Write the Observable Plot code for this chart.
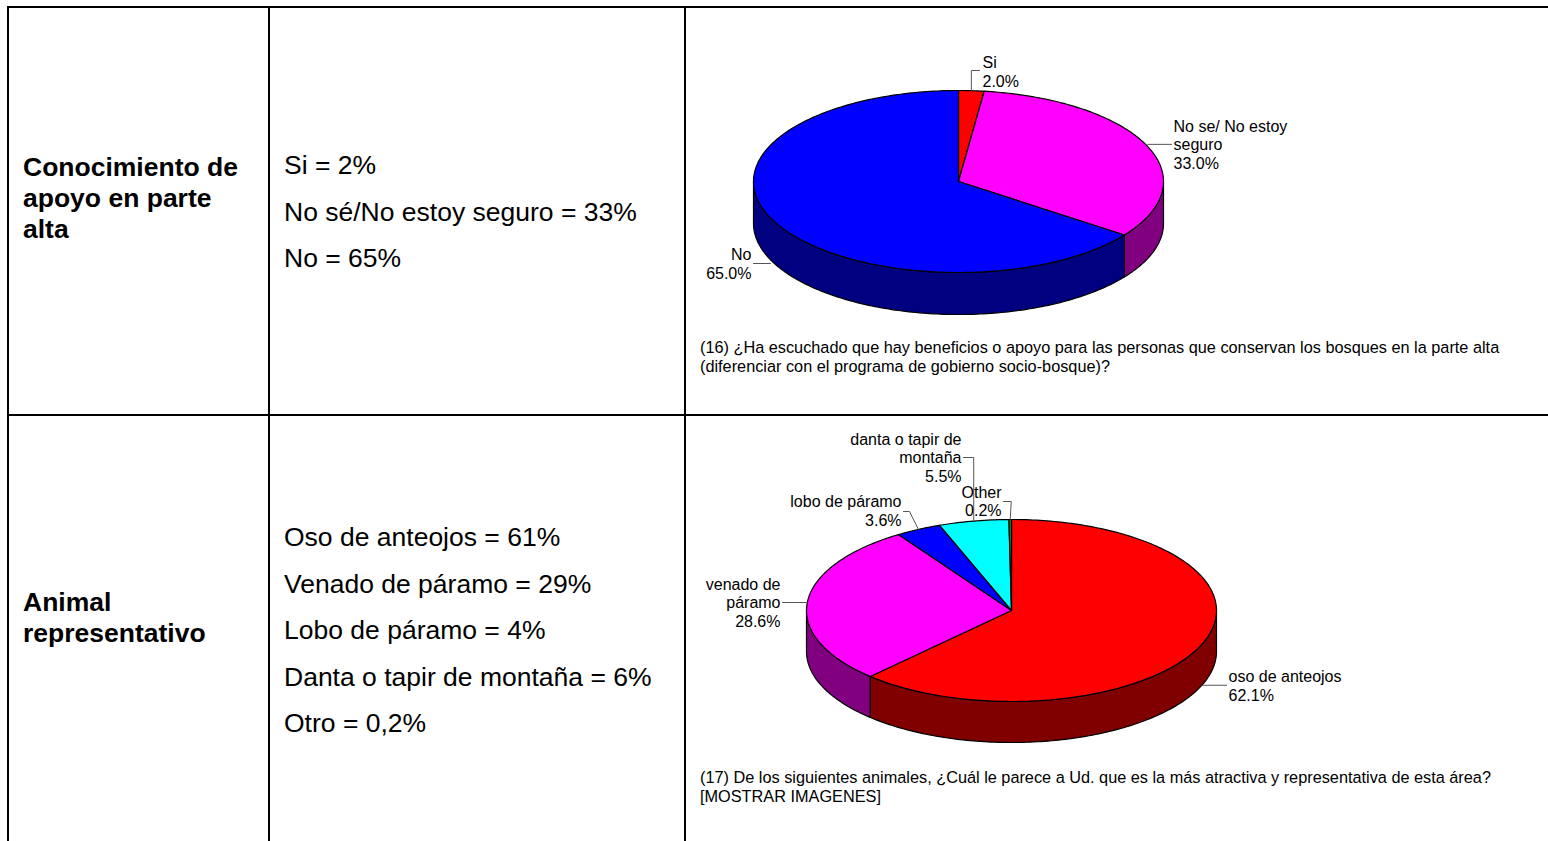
<!DOCTYPE html>
<html><head><meta charset="utf-8">
<script src="https://cdn.jsdelivr.net/npm/d3@7"></script>
<script src="https://cdn.jsdelivr.net/npm/@observablehq/plot@0.6"></script>
<style>
html,body{margin:0;padding:0;background:#fff;}
body{width:1548px;height:841px;overflow:hidden;position:relative;font-family:"Liberation Sans",Arial,sans-serif;color:#000;}
.ln{position:absolute;background:#000;}
.t{position:absolute;white-space:nowrap;}
.head{font-weight:bold;font-size:26.5px;line-height:31px;}
.vals{font-size:26.5px;line-height:46.6px;}
.cap{font-size:16.3px;line-height:19px;}
.pie{position:absolute;}
</style></head><body>
<div class="ln" style="left:7px;top:6px;width:1541px;height:2px"></div>
<div class="ln" style="left:7px;top:414px;width:1541px;height:2px"></div>
<div class="ln" style="left:7px;top:6px;width:2px;height:835px"></div>
<div class="ln" style="left:268px;top:6px;width:2px;height:835px"></div>
<div class="ln" style="left:684px;top:6px;width:2px;height:835px"></div>
<script>
// ---------- data ----------
const rowTitles = ["Conocimiento de\napoyo en parte\nalta", "Animal\nrepresentativo"];
const summary16 = ["Si = 2%", "No sé/No estoy seguro = 33%", "No = 65%"];
const summary17 = ["Oso de anteojos = 61%", "Venado de páramo = 29%", "Lobo de páramo = 4%", "Danta o tapir de montaña = 6%", "Otro = 0,2%"];

const q16Categories = ["Si", "No se/ No estoy\nseguro", "No"];
const q16Values = [2.0, 33.0, 65.0];
const q16Colors = ["#ff0000", "#ff00ff", "#0000ff"];
const q16SideColors = ["#800000", "#800080", "#000080"];
const q16Question = "(16) ¿Ha escuchado que hay beneficios o apoyo para las personas que conservan los bosques en la parte alta\n(diferenciar con el programa de gobierno socio-bosque)?";

const q17Categories = ["oso de anteojos", "venado de\npáramo", "lobo de páramo", "danta o tapir de\nmontaña", "Other"];
const q17Values = [62.1, 28.6, 3.6, 5.5, 0.2];
const q17Colors = ["#ff0000", "#ff00ff", "#0000ff", "#00ffff", "#00a000"];
const q17SideColors = ["#800000", "#800080", "#000080", "#008080", "#005000"];
const q17Question = "(17) De los siguientes animales, ¿Cuál le parece a Ud. que es la más atractiva y representativa de esta área?\n[MOSTRAR IMAGENES]";

// ---------- helpers ----------
const esc = s => s.replace(/&/g,"&amp;").replace(/</g,"&lt;").replace(/\n/g,"<br>");
function addText(cls, left, top, html) {
  const d = document.createElement("div");
  d.className = "t " + cls;
  d.style.left = left + "px"; d.style.top = top + "px";
  d.innerHTML = html;
  document.body.appendChild(d);
}
addText("head", 23, 152, esc(rowTitles[0]));
addText("head", 23, 587, esc(rowTitles[1]));
addText("vals", 284, 142, summary16.map(esc).join("<br>"));
addText("vals", 284, 514, summary17.map(esc).join("<br>"));
addText("cap", 700, 338, esc(q16Question));
addText("cap", 700, 768, esc(q17Question));

function pie3d(cfg) {
  const total = d3.sum(cfg.vals);
  let acc = 0;
  const slices = cfg.vals.map((v, i) => {
    const a0 = acc / total * 2 * Math.PI; acc += v;
    const a1 = acc / total * 2 * Math.PI;
    return {i, a0, a1, mid: (a0 + a1) / 2};
  });
  const P = (t, dz = 0) => ({x: cfg.cx + cfg.rx * Math.sin(t), y: cfg.cy - cfg.ry * Math.cos(t) + dz});
  const arc = (a, b, dz) => {
    const n = Math.max(2, Math.ceil(Math.abs(b - a) / (Math.PI / 180)) + 1);
    return d3.range(n).map(k => P(a + (b - a) * k / (n - 1), dz));
  };
  const marks = [];
  for (const s of slices) {
    const a = Math.max(s.a0, Math.PI / 2), b = Math.min(s.a1, 3 * Math.PI / 2);
    if (b > a) {
      const pts = [...arc(a, b, 0), ...arc(b, a, cfg.depth)];
      marks.push(Plot.line(pts, {x: "x", y: "y", fill: cfg.sides[s.i], stroke: "#000", strokeWidth: 1.2, curve: "linear-closed"}));
    }
  }
  for (const s of slices) {
    const pts = [{x: cfg.cx, y: cfg.cy}, ...arc(s.a0, s.a1, 0)];
    marks.push(Plot.line(pts, {x: "x", y: "y", fill: cfg.cols[s.i], stroke: "#000", strokeWidth: 1.2, strokeLinejoin: "round", curve: "linear-closed"}));
  }
  cfg.labels.forEach((L, i) => {
    const s = slices[i];
    const a = P(s.mid, L.front ? cfg.depth : 0);
    const pts = L.leader([a.x, a.y]).map(([x, y]) => ({x, y}));
    marks.push(Plot.line(pts, {x: "x", y: "y", stroke: "#555", strokeWidth: 1}));
    marks.push(Plot.text([{x: L.tx, y: L.ty, t: cfg.cats[i] + "\n" + cfg.vals[i].toFixed(1) + "%"}],
      {x: "x", y: "y", text: "t", textAnchor: L.anchor, lineHeight: 1.16, fontSize: 16, fill: "#000"}));
  });
  const svg = Plot.plot({
    width: cfg.width, height: cfg.height, margin: 0,
    x: {domain: [cfg.left, cfg.left + cfg.width], range: [0, cfg.width], axis: null},
    y: {domain: [cfg.top, cfg.top + cfg.height], range: [0, cfg.height], axis: null},
    style: {fontFamily: "Liberation Sans, Arial, sans-serif", fontSize: "16px", background: "transparent", overflow: "visible"},
    marks
  });
  const wrap = document.createElement("div");
  wrap.className = "pie";
  wrap.style.left = cfg.left + "px"; wrap.style.top = cfg.top + "px";
  wrap.style.width = cfg.width + "px"; wrap.style.height = cfg.height + "px";
  wrap.appendChild(svg);
  document.body.appendChild(wrap);
}

pie3d({
  left: 690, top: 40, width: 850, height: 290,
  cx: 958, cy: 181, rx: 205, ry: 91, depth: 42,
  cats: q16Categories, vals: q16Values, cols: q16Colors, sides: q16SideColors,
  labels: [
    {tx: 982, ty: 71, anchor: "start", leader: a => [a, [a[0], 70], [979, 70]]},
    {tx: 1173, ty: 144, anchor: "start", leader: a => [[a[0] + 1, a[1] - 1], [1171, a[1] - 1]]},
    {tx: 751, ty: 263, anchor: "end", front: true, leader: a => [[770, 263], [753, 263]]}
  ]
});

pie3d({
  left: 690, top: 425, width: 850, height: 335,
  cx: 1011, cy: 610, rx: 205, ry: 91, depth: 41,
  cats: q17Categories, vals: q17Values, cols: q17Colors, sides: q17SideColors,
  labels: [
    {tx: 1228, ty: 685, anchor: "start", front: true, leader: a => [a, [1226, a[1]]]},
    {tx: 780, ty: 602, anchor: "end", leader: a => [a, [782, a[1]]]},
    {tx: 901, ty: 510, anchor: "end", leader: a => [a, [909, 511], [903, 511]]},
    {tx: 961, ty: 457, anchor: "end", leader: a => [a, [a[0], 457], [963, 457]]},
    {tx: 1001, ty: 500.5, anchor: "end", leader: a => [a, [a[0] + 1, 501], [1003, 501]]}
  ]
});
</script>
</body></html>
